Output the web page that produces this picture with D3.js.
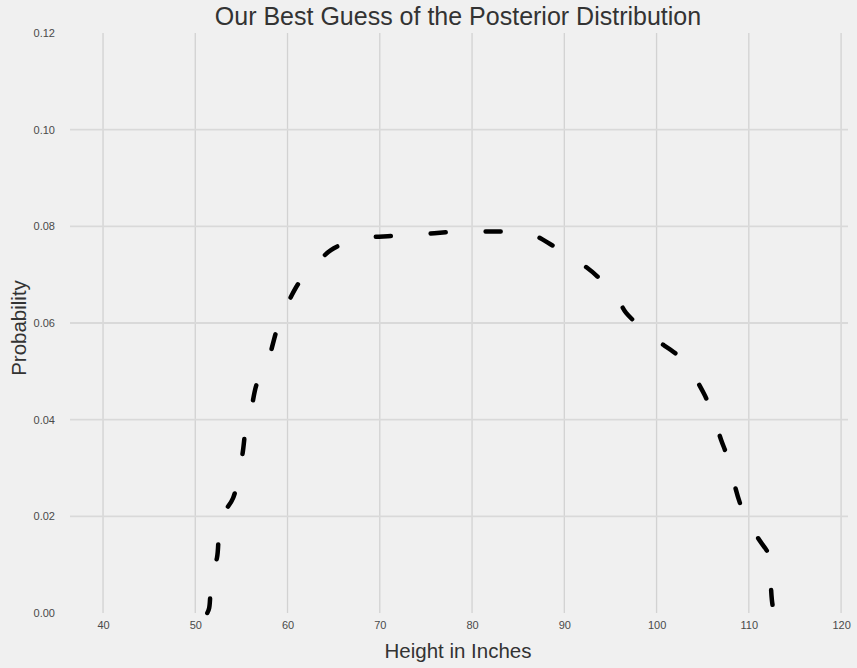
<!DOCTYPE html>
<html>
<head>
<meta charset="utf-8">
<script src="https://cdn.jsdelivr.net/npm/d3@7"></script>
<style>
  body { margin: 0; background: #f0f0f0; }
  svg { display: block; font-family: "Liberation Sans", Arial, sans-serif; }
</style>
</head>
<body>
<div id="chart"></div>
<script>
// posterior curve
var heights = [51.3, 51.5, 51.8, 52.35, 52.8, 54.1, 55.1, 55.5, 56.0, 56.7, 57.7, 59.0, 60.0,
  61.45, 62.9, 64.7, 67.8, 71.2, 73.6, 78.2, 80.7, 84.2, 86.3, 88.75, 89.9, 91.7, 93.6,
  96.0, 96.7, 99.5, 102.0, 103.2, 105.1, 106.0, 107.0, 107.6, 109.2, 110.5, 111.0,
  112.2, 112.3, 112.4, 112.5, 112.7];
var probs = [0.0, 0.001, 0.008, 0.0114, 0.0197, 0.0238, 0.0327, 0.0385, 0.0416, 0.0476, 0.0511,
  0.0596, 0.064, 0.0689, 0.0716, 0.0751, 0.0774, 0.078, 0.0782, 0.0789, 0.0789, 0.0789,
  0.0785, 0.076, 0.0747, 0.0725, 0.0696, 0.0642, 0.0621, 0.0571, 0.0538, 0.0515, 0.0455,
  0.0416, 0.0358, 0.0327, 0.0219, 0.0172, 0.0155, 0.012, 0.0103, 0.0054, 0.0027, 0.0];
var xTicks = [40, 50, 60, 70, 80, 90, 100, 110, 120];
var yTicks = [0, 0.02, 0.04, 0.06, 0.08, 0.10, 0.12];

var W = 857, H = 668;
var plotLeft = 70, plotRight = 848, plotTop = 33, plotBottom = 613;

var svg = d3.select('#chart').append('svg')
  .attr('width', W).attr('height', H);

svg.append('rect').attr('width', W).attr('height', H).attr('fill', '#f0f0f0');

var x = d3.scaleLinear().domain([36.42, 120.75]).range([plotLeft, plotRight]);
var y = d3.scaleLinear().domain([0, 0.12]).range([plotBottom, plotTop]);

// grid
svg.append('g').selectAll('line').data(xTicks).enter().append('line')
  .attr('x1', function(d){ return x(d); }).attr('x2', function(d){ return x(d); })
  .attr('y1', plotTop).attr('y2', plotBottom)
  .attr('stroke', '#d2d2d2').attr('stroke-width', 1.3);

svg.append('g').selectAll('line').data(yTicks.slice(1, -1)).enter().append('line')
  .attr('x1', plotLeft).attr('x2', plotRight)
  .attr('y1', function(d){ return y(d); }).attr('y2', function(d){ return y(d); })
  .attr('stroke', '#d9d9d9').attr('stroke-width', 1.8);

// axes (labels only, no domain / ticks)
var xAxis = svg.append('g').attr('transform', 'translate(0,' + (plotBottom + 5) + ')')
  .call(d3.axisBottom(x).tickValues(xTicks).tickSize(0).tickFormat(d3.format('d')));
var yAxis = svg.append('g').attr('transform', 'translate(' + (plotLeft - 12) + ',0)')
  .call(d3.axisLeft(y).tickValues(yTicks).tickSize(0).tickFormat(d3.format('.2f')));

[xAxis, yAxis].forEach(function(a){
  a.select('.domain').remove();
  a.selectAll('text').attr('fill', '#4a4a4a').style('font-size', '11px')
    .style('font-family', '"Liberation Sans", Arial, sans-serif');
});

// posterior line
var line = d3.line()
  .x(function(d){ return x(d[0]); })
  .y(function(d){ return y(d[1]); })
  .curve(d3.curveCatmullRom.alpha(0.5));

svg.append('path')
  .datum(d3.zip(heights, probs))
  .attr('d', line)
  .attr('fill', 'none')
  .attr('stroke', '#000')
  .attr('stroke-width', 4.5)
  .attr('stroke-linecap', 'round')
  .attr('stroke-dasharray', '15,40');

// titles
svg.append('text').attr('x', 458).attr('y', 25).attr('text-anchor', 'middle')
  .attr('fill', '#333').style('font-size', '25px')
  .text('Our Best Guess of the Posterior Distribution');

svg.append('text').attr('x', 458).attr('y', 658).attr('text-anchor', 'middle')
  .attr('fill', '#333').style('font-size', '20.5px')
  .text('Height in Inches');

svg.append('text').attr('transform', 'translate(26,' + 328 + ') rotate(-90)')
  .attr('text-anchor', 'middle')
  .attr('fill', '#333').style('font-size', '20.5px')
  .text('Probability');
</script>
</body>
</html>
